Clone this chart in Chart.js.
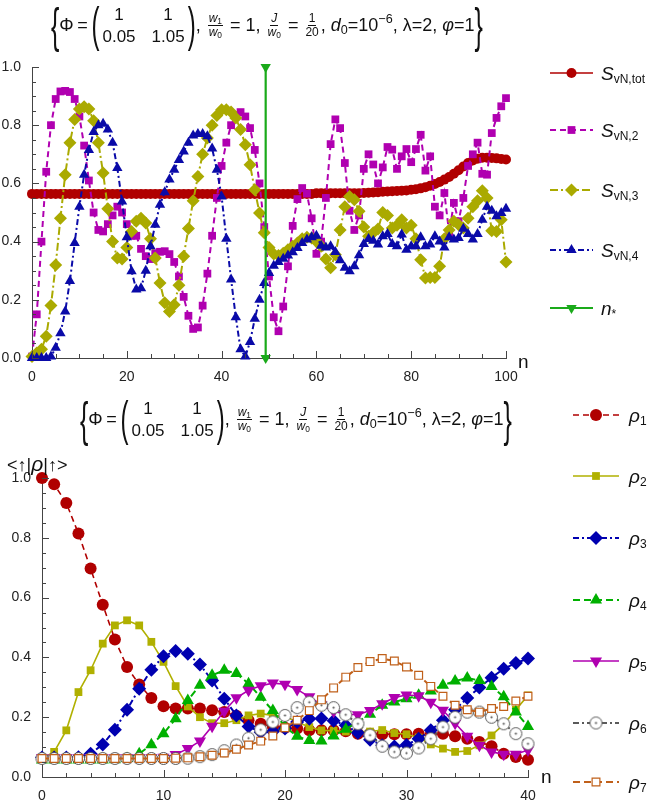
<!DOCTYPE html>
<html>
<head>
<meta charset="utf-8">
<script src="https://cdn.jsdelivr.net/npm/chart.js@4.4.1/dist/chart.umd.min.js"></script>
<style>
body { margin: 0; background: #fff; font-family: "Liberation Sans", Arial, sans-serif; color: #111; }
#wrap { position: relative; width: 650px; height: 801px; overflow: hidden; }
canvas { position: absolute; left: 0; }
.lbl { position: absolute; white-space: nowrap; line-height: 1; transform: translateY(-50%); }
.leg { font-size: 19px; }
.leg sub { font-size: 12px; font-style: normal; vertical-align: -0.3em; line-height: 0; }
.title { position: absolute; display: flex; align-items: center; font-size: 18px; height: 46px; white-space: nowrap; }
.brace { display: inline-block; font-size: 25px; transform: scaleY(1.9); font-weight: 300; }
.paren { display: inline-block; font-size: 24px; transform: scaleY(2.0); }
.mat { display: inline-grid; grid-template-columns: auto auto; column-gap: 16px; row-gap: 1px; text-align: center; font-size: 17px; line-height: 21px; margin: 0 3px; }
.frac { display: inline-flex; flex-direction: column; align-items: center; font-size: 12px; line-height: 13px; margin: 0 2px; }
.frac .num { border-bottom: 1px solid #111; padding: 0 1px; }
.title sub { font-size: 0.7em; vertical-align: -0.25em; line-height: 0; }
.title sup { font-size: 0.7em; vertical-align: 0.6em; line-height: 0; }
</style>
</head>
<body>
<div id="wrap">
  <canvas id="top" width="650" height="340" style="top:45px"></canvas>
  <canvas id="bottom" width="650" height="411" style="top:390px"></canvas>

  <div class="title" style="left:51px;top:2px">
    <span class="brace">{</span><span>Φ&thinsp;=&thinsp;</span><span class="paren">(</span>
    <span class="mat"><span>1</span><span>1</span><span>0.05</span><span>1.05</span></span>
    <span class="paren">)</span><span>,&nbsp;</span>
    <span class="frac"><span class="num"><i>w</i><sub>1</sub></span><span class="den"><i>w</i><sub>0</sub></span></span>
    <span>&nbsp;=&nbsp;1,&nbsp;</span>
    <span class="frac"><span class="num"><i>J</i></span><span class="den"><i>w</i><sub>0</sub></span></span>
    <span>&nbsp;=&nbsp;</span>
    <span class="frac"><span class="num">1</span><span class="den">20</span></span>
    <span>,&nbsp;<i>d</i><sub>0</sub>=10<sup>−6</sup>,&nbsp;λ=2,&nbsp;<i>φ</i>=1</span>
    <span class="brace">}</span>
  </div>

  <div class="title" style="left:80px;top:396px">
    <span class="brace">{</span><span>Φ&thinsp;=&thinsp;</span><span class="paren">(</span>
    <span class="mat"><span>1</span><span>1</span><span>0.05</span><span>1.05</span></span>
    <span class="paren">)</span><span>,&nbsp;</span>
    <span class="frac"><span class="num"><i>w</i><sub>1</sub></span><span class="den"><i>w</i><sub>0</sub></span></span>
    <span>&nbsp;=&nbsp;1,&nbsp;</span>
    <span class="frac"><span class="num"><i>J</i></span><span class="den"><i>w</i><sub>0</sub></span></span>
    <span>&nbsp;=&nbsp;</span>
    <span class="frac"><span class="num">1</span><span class="den">20</span></span>
    <span>,&nbsp;<i>d</i><sub>0</sub>=10<sup>−6</sup>,&nbsp;λ=2,&nbsp;<i>φ</i>=1</span>
    <span class="brace">}</span>
  </div>

  <div class="lbl leg" style="left:601px;top:73px"><i>S</i><sub>vN,tot</sub></div>
  <div class="lbl leg" style="left:601px;top:130px"><i>S</i><sub>vN,2</sub></div>
  <div class="lbl leg" style="left:601px;top:190px"><i>S</i><sub>vN,3</sub></div>
  <div class="lbl leg" style="left:601px;top:250px"><i>S</i><sub>vN,4</sub></div>
  <div class="lbl leg" style="left:601px;top:308px"><i>n</i><sub>*</sub></div>

  <div class="lbl leg" style="left:629px;top:415px"><i>ρ</i><sub>1</sub></div>
  <div class="lbl leg" style="left:629px;top:476px"><i>ρ</i><sub>2</sub></div>
  <div class="lbl leg" style="left:629px;top:538px"><i>ρ</i><sub>3</sub></div>
  <div class="lbl leg" style="left:629px;top:600px"><i>ρ</i><sub>4</sub></div>
  <div class="lbl leg" style="left:629px;top:661px"><i>ρ</i><sub>5</sub></div>
  <div class="lbl leg" style="left:629px;top:723px"><i>ρ</i><sub>6</sub></div>
  <div class="lbl leg" style="left:629px;top:782px"><i>ρ</i><sub>7</sub></div>

  <div class="lbl" style="left:518px;top:361px;font-size:19px">n</div>
  <div class="lbl" style="left:541px;top:776px;font-size:19px">n</div>
  <div class="lbl" style="left:7px;top:463px;font-size:18px">&lt;↑|<i style="font-size:21px">ρ</i>|↑&gt;</div>
</div>

<script>
// top panel: von Neumann entropies vs n (n = 0..100)
var sTot = [
  0.564, 0.564, 0.564, 0.564, 0.564, 0.564, 0.564, 0.564, 0.564, 0.564,
  0.564, 0.564, 0.564, 0.564, 0.564, 0.564, 0.564, 0.564, 0.564, 0.564,
  0.564, 0.564, 0.564, 0.564, 0.564, 0.564, 0.564, 0.564, 0.564, 0.564,
  0.564, 0.564, 0.564, 0.564, 0.564, 0.564, 0.564, 0.564, 0.564, 0.564,
  0.564, 0.564, 0.564, 0.564, 0.564, 0.564, 0.564, 0.564, 0.564, 0.564,
  0.564, 0.564, 0.564, 0.564, 0.564, 0.564, 0.564, 0.564, 0.564, 0.564,
  0.566, 0.566, 0.566, 0.566, 0.566, 0.566, 0.566, 0.566, 0.566, 0.566,
  0.567, 0.568, 0.569, 0.570, 0.571, 0.572, 0.573, 0.574, 0.575, 0.576,
  0.578, 0.580, 0.583, 0.587, 0.592, 0.598, 0.605, 0.613, 0.622, 0.633,
  0.645, 0.658, 0.670, 0.679, 0.685, 0.688, 0.688, 0.687, 0.686, 0.684,
  0.682
];
var s2 = [
  0.005, 0.15, 0.40, 0.64, 0.80, 0.89, 0.916, 0.918, 0.914, 0.89,
  0.83, 0.73, 0.61, 0.50, 0.44, 0.435, 0.46, 0.49, 0.52, 0.50,
  0.46, 0.42, 0.42, 0.375, 0.35, 0.34, 0.36, 0.365, 0.367, 0.357,
  0.33, 0.28, 0.21, 0.145, 0.10, 0.105, 0.18, 0.29, 0.42, 0.55,
  0.66, 0.74, 0.80, 0.835, 0.845, 0.83, 0.79, 0.715, 0.60, 0.45,
  0.28, 0.14, 0.092, 0.177, 0.315, 0.454, 0.546, 0.584, 0.565, 0.48,
  0.358, 0.40, 0.55, 0.735, 0.82, 0.79, 0.67, 0.506, 0.44, 0.49,
  0.65, 0.70, 0.665, 0.60, 0.655, 0.725, 0.716, 0.65, 0.693, 0.718,
  0.673, 0.718, 0.767, 0.644, 0.693, 0.52, 0.49, 0.567, 0.43, 0.533,
  0.47, 0.55, 0.66, 0.70, 0.74, 0.633, 0.63, 0.773, 0.825, 0.865,
  0.893
];
var s3 = [
  0.005, 0.017, 0.03, 0.075, 0.18, 0.32, 0.48, 0.63, 0.74, 0.82,
  0.856, 0.863, 0.856, 0.815, 0.74, 0.636, 0.513, 0.40, 0.344, 0.34,
  0.38, 0.435, 0.47, 0.48, 0.464, 0.41, 0.344, 0.258, 0.19, 0.16,
  0.183, 0.25, 0.35, 0.445, 0.54, 0.624, 0.70, 0.756, 0.80, 0.833,
  0.853, 0.853, 0.845, 0.825, 0.785, 0.733, 0.664, 0.578, 0.498, 0.43,
  0.38, 0.357, 0.352, 0.36, 0.372, 0.384, 0.395, 0.41, 0.415, 0.412,
  0.40, 0.384, 0.34, 0.31, 0.355, 0.44, 0.52, 0.555, 0.544, 0.504,
  0.45, 0.418, 0.43, 0.443, 0.50, 0.49, 0.447, 0.456, 0.475, 0.447,
  0.456, 0.41, 0.338, 0.275, 0.277, 0.277, 0.315, 0.41, 0.44, 0.47,
  0.458, 0.447, 0.48, 0.52, 0.54, 0.575, 0.55, 0.437, 0.435, 0.475,
  0.33
];
var s4 = [
  0.0, 0.0, 0.0, 0.0, 0.005, 0.035, 0.085, 0.16, 0.265, 0.395,
  0.52, 0.63, 0.715, 0.777, 0.80, 0.805, 0.785, 0.74, 0.653, 0.538,
  0.415, 0.298, 0.235, 0.24, 0.30, 0.384, 0.458, 0.527, 0.57, 0.613,
  0.647, 0.68, 0.71, 0.74, 0.765, 0.77, 0.77, 0.762, 0.72, 0.647,
  0.555, 0.41, 0.27, 0.14, 0.03, 0.005, 0.055, 0.135, 0.20, 0.258,
  0.292, 0.317, 0.33, 0.341, 0.352, 0.363, 0.378, 0.395, 0.407, 0.415,
  0.42, 0.386, 0.38, 0.384, 0.364, 0.336, 0.31, 0.298, 0.315, 0.353,
  0.392, 0.409, 0.403, 0.39, 0.418, 0.426, 0.392, 0.384, 0.424, 0.372,
  0.384, 0.384, 0.415, 0.384, 0.39, 0.418, 0.40, 0.38, 0.415, 0.407,
  0.412, 0.444, 0.426, 0.407, 0.426, 0.475, 0.52, 0.506, 0.487, 0.498,
  0.513
];
var nStar = 49.3;
var nStarY = [0, 1];

// tick mark positions (labels come from the scales, these are the small marks)
var topXTicks = [0, 5, 10, 15, 20, 25, 30, 35, 40, 45, 50, 55, 60, 65, 70, 75, 80, 85, 90, 95, 100];
var botXTicks = [0, 2, 4, 6, 8, 10, 12, 14, 16, 18, 20, 22, 24, 26, 28, 30, 32, 34, 36, 38, 40];
var yTicks = [0, 0.05, 0.1, 0.15, 0.2, 0.25, 0.3, 0.35, 0.4, 0.45, 0.5, 0.55, 0.6, 0.65, 0.7, 0.75, 0.8, 0.85, 0.9, 0.95, 1.0];

// bottom panel: <up|rho_k|up> vs n (n = 0..40)
var rho1 = [1.0, 0.979, 0.916, 0.814, 0.697, 0.576, 0.46, 0.368, 0.309, 0.264,
  0.237, 0.229, 0.229, 0.229, 0.223, 0.217, 0.205, 0.19, 0.178, 0.169,
  0.165, 0.162, 0.156, 0.156, 0.156, 0.153, 0.145, 0.145, 0.143, 0.143,
  0.143, 0.145, 0.143, 0.145, 0.136, 0.128, 0.117, 0.103, 0.078, 0.067, 0.058];
var rho2 = [0.062, 0.084, 0.156, 0.284, 0.357, 0.446, 0.507, 0.524, 0.507, 0.452,
  0.385, 0.304, 0.236, 0.20, 0.18, 0.18, 0.19, 0.206, 0.212, 0.206,
  0.203, 0.184, 0.167, 0.156, 0.155, 0.152, 0.152, 0.152, 0.157, 0.147,
  0.143, 0.132, 0.109, 0.095, 0.084, 0.087, 0.106, 0.139, 0.176, 0.225, 0.273];
var rho3 = [0.065, 0.065, 0.065, 0.066, 0.078, 0.109, 0.158, 0.225, 0.295, 0.359,
  0.404, 0.421, 0.412, 0.376, 0.323, 0.262, 0.206, 0.169, 0.15, 0.152,
  0.162, 0.184, 0.195, 0.196, 0.188, 0.173, 0.148, 0.125, 0.106, 0.102,
  0.107, 0.128, 0.156, 0.19, 0.225, 0.264, 0.299, 0.332, 0.362, 0.381, 0.396];
var rho4 = [0.057, 0.057, 0.057, 0.057, 0.057, 0.057, 0.058, 0.062, 0.078, 0.108,
  0.145, 0.195, 0.256, 0.307, 0.34, 0.357, 0.346, 0.312, 0.267, 0.222,
  0.168, 0.136, 0.122, 0.12, 0.137, 0.16, 0.184, 0.21, 0.24, 0.251,
  0.262, 0.273, 0.288, 0.307, 0.321, 0.331, 0.323, 0.303, 0.268, 0.217, 0.169];
var rho5 = [0.065, 0.065, 0.065, 0.065, 0.065, 0.065, 0.065, 0.065, 0.065, 0.065,
  0.066, 0.075, 0.095, 0.12, 0.17, 0.22, 0.265, 0.29, 0.305, 0.314,
  0.31, 0.293, 0.268, 0.242, 0.22, 0.21, 0.208, 0.222, 0.245, 0.266,
  0.274, 0.272, 0.25, 0.223, 0.18, 0.136, 0.106, 0.084, 0.076, 0.076, 0.09];
var rho6 = [0.062, 0.062, 0.062, 0.062, 0.062, 0.062, 0.062, 0.062, 0.062, 0.062,
  0.062, 0.062, 0.063, 0.068, 0.075, 0.088, 0.107, 0.13, 0.158, 0.184,
  0.206, 0.232, 0.25, 0.24, 0.232, 0.208, 0.178, 0.14, 0.103, 0.084,
  0.08, 0.097, 0.128, 0.167, 0.2, 0.217, 0.217, 0.2, 0.178, 0.145, 0.111];
var rho7 = [0.062, 0.062, 0.062, 0.062, 0.062, 0.062, 0.062, 0.062, 0.062, 0.062,
  0.062, 0.063, 0.064, 0.068, 0.073, 0.08, 0.093, 0.107, 0.12, 0.137,
  0.165, 0.19, 0.222, 0.258, 0.298, 0.334, 0.366, 0.386, 0.396, 0.388,
  0.368, 0.34, 0.303, 0.27, 0.24, 0.225, 0.217, 0.229, 0.236, 0.254, 0.27];

const FONT = "'Liberation Sans', Arial, sans-serif";
const AXIS = "#444";

const toXY = vals => vals.map((v, i) => ({x: i, y: v}));

// open circle with a dot, used for rho6
function dotCircle(color) {
  var c = document.createElement("canvas");
  c.width = 15; c.height = 15;
  var g = c.getContext("2d");
  g.fillStyle = "#fff";
  g.strokeStyle = color;
  g.lineWidth = 1;
  g.beginPath(); g.arc(7.5, 7.5, 6, 0, Math.PI * 2); g.fill(); g.stroke();
  g.fillStyle = color;
  g.beginPath(); g.arc(7.5, 7.5, 1.1, 0, Math.PI * 2); g.fill();
  return c;
}

function series(label, data, color, dash, style, radius, extra) {
  return Object.assign({
    label: label,
    data: data,
    borderColor: color,
    borderWidth: 1.6,
    borderDash: dash,
    pointStyle: style,
    pointRadius: radius,
    pointBackgroundColor: color,
    pointBorderColor: color,
    pointBorderWidth: 0,
    pointHoverRadius: radius,
    tension: 0,
    fill: false,
    clip: false
  }, extra || {});
}

// tick marks pointing into the plot, then legend samples at the right side
function decor(x1, x2, legYs, xs, xMajor, ys) {
  return {
    id: "decor",
    afterDraw(chart) {
      const ctx = chart.ctx;
      const a = chart.chartArea, sx = chart.scales.x, sy = chart.scales.y;
      ctx.save();
      ctx.setLineDash([]);
      ctx.strokeStyle = "#444";
      ctx.lineWidth = 1;
      ctx.beginPath();
      for (var i = 0; i < xs.length; i++) {
        var v = xs[i];
        var px = Math.round(sx.getPixelForValue(v)) + 0.5;
        var len = (v % xMajor === 0) ? 7 : 4;
        ctx.moveTo(px, a.bottom);
        ctx.lineTo(px, a.bottom - len);
      }
      for (var j = 0; j < ys.length; j++) {
        var py = Math.round(sy.getPixelForValue(ys[j])) + 0.5;
        var l2 = (j % 4 === 0) ? 7 : 4;
        ctx.moveTo(a.left, py);
        ctx.lineTo(a.left + l2, py);
      }
      ctx.stroke();
      ctx.restore();

      chart.data.datasets.forEach(function(ds, k) {
        var yy = legYs[k];
        ctx.save();
        ctx.strokeStyle = ds.borderColor;
        ctx.lineWidth = ds.borderWidth;
        ctx.setLineDash(ds.borderDash || []);
        ctx.beginPath(); ctx.moveTo(x1, yy); ctx.lineTo(x2, yy); ctx.stroke();
        ctx.setLineDash([]);
        ctx.fillStyle = ds.pointBackgroundColor;
        ctx.strokeStyle = ds.pointBorderColor;
        ctx.lineWidth = ds.pointBorderWidth;
        Chart.helpers.drawPoint(ctx, {
          pointStyle: ds.pointStyle,
          rotation: ds.pointRotation || 0,
          radius: ds.pointRadius,
          borderWidth: ds.pointBorderWidth
        }, (x1 + x2) / 2, yy);
        ctx.restore();
      });
    }
  };
}

function axes(xmax, xstep, yw, xh) {
  var tickFont = {family: FONT, size: 14};
  return {
    x: {
      type: "linear", min: 0, max: xmax,
      ticks: {stepSize: xstep, color: "#222", font: tickFont, padding: 3, maxRotation: 0, autoSkip: false},
      grid: {display: false},
      border: {display: true, color: AXIS, width: 1},
      afterFit: s => { s.height = xh; }
    },
    y: {
      type: "linear", min: 0, max: 1,
      ticks: {stepSize: 0.2, color: "#222", font: tickFont, padding: 3, callback: v => v.toFixed(1)},
      grid: {display: false},
      border: {display: true, color: AXIS, width: 1},
      afterFit: s => { s.width = yw; }
    }
  };
}

function setOrder(list) {
  list.forEach((d, i) => { d.order = list.length - i; });
  return list;
}

// ---- top chart
var topSets = setOrder([
  series("S_vN,tot", toXY(sTot), "#b00000", [], "circle", 5),
  series("S_vN,2", toXY(s2), "#b000b0", [6, 4], "rect", 5.5, {borderWidth: 2}),
  series("S_vN,3", toXY(s3), "#aaaa00", [8, 3, 2, 3], "rectRot", 6.5, {borderWidth: 2}),
  series("S_vN,4", toXY(s4), "#0a0aa8", [6, 3, 2, 3], "triangle", 6, {borderWidth: 2}),
  series("n*", nStarY.map(v => ({x: nStar, y: v})), "#1aaa1a", [], "triangle", 6, {borderWidth: 2.2, pointRotation: 180})
]);

new Chart(document.getElementById("top"), {
  type: "line",
  data: {datasets: topSets},
  options: {
    responsive: false, animation: false,
    layout: {padding: {left: 0, right: 144, top: 22, bottom: 0}},
    scales: axes(100, 20, 32, 27),
    plugins: {legend: {display: false}, tooltip: {enabled: false}}
  },
  plugins: [decor(550, 593, [28, 85, 145, 205, 263], topXTicks, 20, yTicks)]
});

// ---- bottom chart
var botSets = setOrder([
  series("rho1", toXY(rho1), "#b00000", [6, 4], "circle", 6),
  series("rho2", toXY(rho2), "#b0b000", [], "rect", 5.5),
  series("rho3", toXY(rho3), "#0000b0", [6, 3, 2, 3], "rectRot", 7, {borderWidth: 2}),
  series("rho4", toXY(rho4), "#00b000", [7, 4], "triangle", 7, {borderWidth: 2}),
  series("rho5", toXY(rho5), "#b000b0", [], "triangle", 7, {pointRotation: 180}),
  series("rho6", toXY(rho6), "#5a5a5a", [6, 3, 2, 3], dotCircle("#555555"), 7, {borderWidth: 2}),
  series("rho7", toXY(rho7), "#c0601a", [7, 4], "rect", 5.5, {borderWidth: 2, pointBackgroundColor: "#fff", pointBorderColor: "#c0601a", pointBorderWidth: 1.2})
]);

new Chart(document.getElementById("bottom"), {
  type: "line",
  data: {datasets: botSets},
  options: {
    responsive: false, animation: false,
    layout: {padding: {left: 0, right: 122, top: 88, bottom: 0}},
    scales: axes(40, 10, 42, 24),
    plugins: {legend: {display: false}, tooltip: {enabled: false}}
  },
  plugins: [decor(573, 619, [25, 86, 148, 210, 271, 333, 392], botXTicks, 10, yTicks)]
});
</script>
</body>
</html>
